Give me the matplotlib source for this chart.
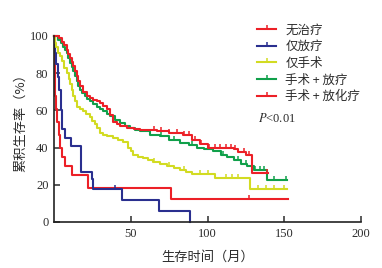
import numpy as np
import matplotlib
matplotlib.use('Agg')
import matplotlib.pyplot as plt
from matplotlib.lines import Line2D

plt.rcParams['font.family'] = ['Liberation Serif', 'Noto Sans CJK SC']
plt.rcParams['mathtext.fontset'] = 'stix'

# group labels and colours
labels = ['无治疗', '仅放疗', '仅手术', '手术 + 放疗', '手术 + 放化疗']
colors = ['#ec2027', '#2a2f8f', '#d2db22', '#10a04a', '#ec2027']

# 无治疗
t_none = [0, 0.5, 1, 2, 3, 4, 5.5, 7, 12, 22, 76, 152.5]
s_none = [100, 68, 61, 54, 47, 40, 35, 30, 25.5, 18.5, 12.5, 12.5]
c_none = [127]

# 仅放疗
t_rt = [0, 0.5, 1.5, 2.5, 3.5, 4.5, 5.5, 7, 11, 17.8, 24.5, 25.6, 44.5, 68.5, 88.6]
s_rt = [100, 91, 85, 78, 71, 60, 50, 45, 41, 27, 23, 18, 12, 6, 0]
c_rt = [40]

# 仅手术
t_surg = [0, 0.5, 1.5, 2.6, 4, 5, 6.5, 8.3, 9.5, 10.5, 11.5, 12.5, 13.5, 14.8, 17, 19, 21, 23.5,
          25, 26.5, 27.8, 30, 32, 34.3, 38.6, 42, 45, 48, 50, 51.5, 55, 58, 61, 64.5, 69,
          73.5, 78, 82, 86, 90, 105, 128, 151.6]
s_surg = [100, 96, 94, 91, 89, 86.5, 83, 80, 77, 74, 71, 68, 65, 62, 60.5, 59.5, 58, 56.7,
          54.5, 52.5, 50.6, 48, 47, 46, 45, 44, 43, 40, 38, 36, 35, 34.5, 33.5, 32.5, 31,
          30, 29, 28, 27, 26, 23.5, 17.5, 17.5]
c_surg = [65, 75, 85, 95, 100, 112, 116, 120, 133, 138, 143, 150]

# 手术 + 放疗
t_srt = [0, 2.8, 4.5, 6.1, 7.2, 8.3, 9.4, 10.4, 11.5, 12.6, 13.7, 14.8, 15.9, 16.9, 18.5, 20.2,
         21.8, 23.5, 25.6, 27.8, 30, 32.1, 34.3, 36.5, 39.7, 43, 46.2, 49.5, 52.8, 56, 62.5,
         69, 75, 82, 88, 93, 98, 103.6, 109, 113, 117, 122, 126, 130, 139, 151.6]
s_srt = [100, 98, 96, 94, 92.5, 91, 88, 85.6, 83.3, 81, 78.3, 75.7, 73.3, 71, 69.3, 67.6,
         66.3, 65, 63.5, 62, 60.8, 59.6, 58.3, 57, 55, 53, 51.8, 50.6, 49.7, 48.8, 47,
         46, 44.3, 42.6, 41.3, 40, 39, 38, 36, 34.8, 33.6, 31, 30, 28.2, 22.8, 22.8]
c_srt = [70, 78, 90, 100, 110, 120, 125, 131, 134, 137, 143, 151]

# 手术 + 放化疗
t_scrt = [0, 3, 5, 6.5, 8.3, 9.4, 10.5, 11.5, 12.6, 13.7, 14.8, 15.9, 16.9, 19, 21.3, 23.5,
          25.6, 27.8, 30, 32.1, 34.3, 36.5, 38.6, 40.8, 43, 47.4, 52, 56, 61, 66.9, 75,
          84, 90, 95, 100, 117, 120, 125, 128.8, 139.6]
s_scrt = [100, 99, 97, 95, 92.7, 90.5, 88.3, 86, 83.7, 81, 78.3, 75.6, 73, 70, 67.6, 66.7,
          65.8, 65, 64, 62.3, 60.5, 57.3, 54, 52.8, 51.5, 50.6, 50.1, 49.7, 49.2, 48.8, 48,
          47, 44, 42, 40, 39, 37.4, 35.8, 26.5, 26.5]
c_scrt = [65, 70, 75, 80, 85, 88, 92, 96, 101, 105, 108, 112, 115, 118, 124, 127, 139]

series = [(t_none, s_none, c_none), (t_rt, s_rt, c_rt), (t_surg, s_surg, c_surg),
          (t_srt, s_srt, c_srt), (t_scrt, s_scrt, c_scrt)]

fig = plt.figure(figsize=(3.82, 2.68), dpi=100)
ax = fig.add_axes([54 / 382, 46 / 268, 307 / 382, 186 / 268])

txt = '#2b2b2b'
order = [2, 3, 4, 0, 1]
for i in order:
    t, s, c = series[i]
    ax.plot(t, s, drawstyle='steps-post', color=colors[i], lw=1.5, clip_on=False, zorder=2 + i * 0.1)
    idx = np.searchsorted(t, c, side='right') - 1
    cy = np.array(s)[idx]
    ax.plot(c, cy, ls='none', marker=2, ms=3, mew=1.1, color=colors[i], clip_on=False,
            zorder=2 + i * 0.1)

ax.set_xlim(0, 200)
ax.set_ylim(0, 100)
ax.set_xticks([50, 100, 150, 200])
ax.set_yticks([0, 20, 40, 60, 80, 100])
ax.tick_params(direction='in', length=4, width=1.1, labelsize=9, colors=txt, pad=4)
for sp in ['top', 'right']:
    ax.spines[sp].set_visible(False)
for sp in ['left', 'bottom']:
    ax.spines[sp].set_linewidth(1.2)
    ax.spines[sp].set_color('#222222')

ax.set_xlabel('生存时间（月）', family=['Noto Sans CJK SC'], fontsize=9.5, color=txt, labelpad=8)
ax.set_ylabel('累积生存率（%）', family=['Noto Sans CJK SC'], fontsize=9.5, color=txt)
ax.yaxis.set_label_coords(-0.088, 0.55)

handles = [Line2D([0, 0.5, 1], [0, 0, 0], color=colors[i], lw=1.5, marker=2, ms=3, mew=1.1,
                  markevery=[1]) for i in range(5)]
leg = fig.legend(handles, labels, loc='upper left', bbox_to_anchor=(251 / 382, 1 - 17 / 268),
                 frameon=False, prop={'family': ['Noto Sans CJK SC'], 'size': 9},
                 handlelength=1.5, handletextpad=0.75, labelspacing=0.3, borderpad=0)
for tx in leg.get_texts():
    tx.set_color(txt)

fig.text(258 / 382, 1 - 118 / 268, '$P$<0.01', fontsize=9, color=txt, va='center')

fig.savefig('out.png', dpi=100)
